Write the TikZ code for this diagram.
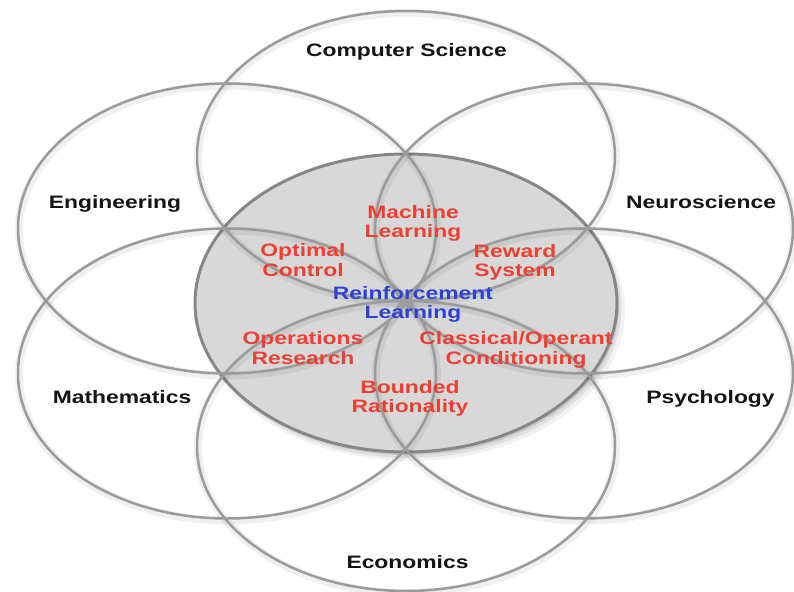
\documentclass[tikz,border=0pt]{standalone}
\usepackage{fontspec}
\setmainfont{Liberation Sans}
\newfontfamily\labfont{Liberation Sans}[FakeStretch=1.27]
\usetikzlibrary{shapes.geometric}
\definecolor{ringgray}{RGB}{155,155,155}
\definecolor{rimgray}{RGB}{135,135,135}
\definecolor{coregray}{RGB}{216,216,216}
\definecolor{labred}{RGB}{238,64,50}
\definecolor{labblue}{RGB}{45,65,215}
\definecolor{labblack}{RGB}{20,20,20}
\tikzset{
  ring/.style={ellipse, draw=ringgray, line width=2.5pt, minimum width=418pt, minimum height=290pt, inner sep=0pt, outer sep=0pt},
  core/.style={ellipse, fill=coregray, draw=rimgray, line width=3pt, minimum width=422pt, minimum height=298pt, inner sep=0pt, outer sep=0pt},
  halo/.style={draw=black, opacity=0.06, line width=8pt},
  labtext/.style={font=\labfont\bfseries\fontsize{18}{19.5}\selectfont, inner sep=0pt, align=center},
  field/.style={labtext, text=labblack, anchor=base},
  redlab/.style={labtext, text=labred},
  bluelab/.style={labtext, text=labblue}
}
\begin{document}
\begin{tikzpicture}[x=1pt,y=-1pt]
\useasboundingbox (0,0) rectangle (794,591);
\fill[white] (0,0) rectangle (794,591);
% centres of the seven ellipses
\coordinate (o) at (406,303);
\coordinate (pcs) at (406,156);
\coordinate (peco) at (406,446);
\coordinate (peng) at (227,228.5);
\coordinate (pneu) at (584,228.5);
\coordinate (pmat) at (227,373.5);
\coordinate (ppsy) at (584,373.5);
% soft shadow of the central ellipse
\fill[black,opacity=0.05] ([shift={(5,7)}]o) ellipse (214pt and 151pt);
\fill[black,opacity=0.07] ([shift={(3.5,5)}]o) ellipse (212pt and 150pt);
\fill[black,opacity=0.10] ([shift={(2,3)}]o) ellipse (211pt and 149pt);
\node[core] (core) at (o) {};
% soft halos of the outer rings
\foreach \p in {pcs,peco,peng,pneu,pmat,ppsy}
  \draw[halo] ([shift={(1,2)}]\p) ellipse (209pt and 145pt);
% outer rings
\node[ring] (cs) at (pcs) {};
\node[ring] (eco) at (peco) {};
\node[ring] (eng) at (peng) {};
\node[ring] (neu) at (pneu) {};
\node[ring] (mat) at (pmat) {};
\node[ring] (psy) at (ppsy) {};
% field labels
\node[field] (lcs) at (406.5,57) {Computer Science};
\node[field] (leng) at (115,208) {Engineering};
\node[field] (lneu) at (701,208) {Neuroscience};
\node[field] (lmat) at (122,403) {Mathematics};
\node[field] (lpsy) at (710.5,403) {Psychology};
\node[field] (leco) at (407.5,568) {Economics};
% inner labels
\node[redlab] (lml) at (413,223.4) {Machine\\Learning};
\node[redlab] (loc) at (303,260) {Optimal\\Control};
\node[redlab] (lrs) at (515,262.4) {Reward\\System};
\node[bluelab] (lrl) at (413,304.4) {Reinforcement\\Learning};
\node[redlab] (lor) at (303,348) {Operations\\Research};
\node[redlab] (lco) at (516,349.9) {Classical/Operant\\Conditioning};
\node[redlab] (lbr) at (410,398.4) {Bounded\\Rationality};
\end{tikzpicture}
\end{document}
